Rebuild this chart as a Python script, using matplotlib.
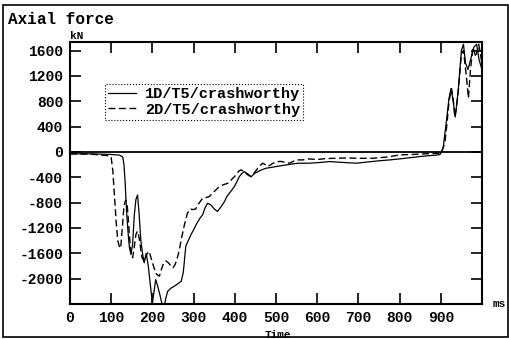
import matplotlib
matplotlib.use("Agg")
from matplotlib import pyplot as plt
from matplotlib.patches import Rectangle

# Axial force history (kN) against time (ms)
time_2d = [0, 50, 95, 100, 104, 108, 112, 116, 120, 123, 127, 131, 135, 139, 143, 147,
           152, 156, 160, 164, 168, 174, 180, 186, 192, 198, 204, 210, 217, 222, 227,
           233, 239, 245, 250, 255, 260, 265, 270, 277, 285, 292, 298, 305, 312, 322,
           330, 338, 346, 354, 362, 371, 378, 385, 393, 403, 410, 415, 421, 427, 433,
           440, 447, 456, 462, 468, 474, 480, 490, 500, 513, 522, 533, 549, 565, 580,
           600, 620, 646, 670, 700, 735, 770, 800, 830, 860, 880, 895, 900, 905, 910,
           915, 920, 926, 930, 934, 938, 943, 950, 955, 962, 967, 972, 978, 985, 992, 1000]
force_2d = [-30, -35, -60, -90, -300, -700, -1100, -1400, -1500, -1520, -1200, -850, -760,
            -850, -1200, -1550, -1670, -1500, -1300, -1250, -1360, -1650, -1730, -1620,
            -1570, -1700, -1830, -1930, -1960, -1850, -1760, -1720, -1750, -1800, -1830,
            -1780, -1680, -1560, -1380, -1170, -966, -900, -910, -900, -820, -730, -720,
            -705, -650, -600, -550, -520, -505, -490, -430, -362, -300, -283, -300, -336,
            -370, -390, -330, -257, -210, -178, -200, -231, -190, -153, -150, -165, -178,
            -126, -126, -110, -120, -105, -100, -95, -100, -100, -80, -47, -40, -30, -25,
            -20, -20, 50, 150, 450, 800, 1000, 850, 550, 700, 1000, 1550, 1600, 1200, 850,
            1300, 1650, 1500, 1700, 1400]

time_1d = [0, 50, 100, 120, 128, 131, 134, 137, 140, 144, 148, 152, 156, 160, 164, 168,
           172, 176, 180, 185, 190, 195, 200, 204, 208, 212, 218, 224, 229, 233, 237, 245,
           253, 262, 270, 275, 281, 287, 294, 300, 306, 314, 322, 328, 334, 342, 350, 358,
           366, 375, 381, 387, 393, 399, 405, 411, 417, 423, 432, 440, 448, 456, 466, 476,
           488, 500, 512, 525, 540, 553, 581, 610, 630, 660, 695, 720, 750, 776, 800, 820,
           849, 870, 890, 898, 902, 906, 912, 920, 925, 930, 935, 942, 950, 955, 960, 966,
           972, 980, 987, 993, 1000]
force_1d = [-30, -30, -40, -50, -80, -200, -500, -900, -1200, -1500, -1620, -1450, -1000,
            -750, -680, -1000, -1400, -1600, -1750, -1600, -1800, -2100, -2380, -2200,
            -2015, -2100, -2250, -2420, -2420, -2300, -2200, -2150, -2120, -2080, -2040,
            -1900, -1490, -1400, -1300, -1230, -1150, -1060, -990, -880, -810, -835, -900,
            -940, -870, -783, -700, -650, -600, -546, -470, -390, -340, -310, -350, -390,
            -340, -310, -280, -257, -245, -231, -218, -205, -190, -178, -178, -165, -152,
            -165, -178, -160, -140, -126, -110, -95, -73, -60, -50, -40, 0, 80, 400, 850,
            1000, 800, 550, 950, 1600, 1700, 1400, 1300, 1450, 1650, 1700, 1450, 1300]

x_ticks = [0, 100, 200, 300, 400, 500, 600, 700, 800, 900]
y_ticks = [1600, 1200, 800, 400, 0, -400, -800, -1200, -1600, -2000]

font = {'family': 'Liberation Mono', 'weight': 'bold'}

fig = plt.figure(figsize=(5.1, 3.39), dpi=100)
ax = fig.add_axes([70 / 510, 35 / 339, 412 / 510, 262 / 339])

ax.plot(time_1d, force_1d, color='black', lw=0.9, label='1D/T5/crashworthy')
ax.plot(time_2d, force_2d, color='black', lw=1.0, dashes=(5, 2.5), label='2D/T5/crashworthy')
ax.axhline(0, color='black', lw=1.3)

ax.set_xlim(0, 1000)
ax.set_ylim(-2400, 1735)

ax.set_xticks(x_ticks)
ax.set_xticklabels([str(v) for v in x_ticks], fontdict=font, fontsize=10.5)
ax.set_yticks(y_ticks)
ax.set_yticklabels([str(v) for v in y_ticks], fontdict=font, fontsize=10.5)
ax.tick_params(direction='in', length=8, width=1.2, top=True, right=True, pad=5)
for s in ax.spines.values():
    s.set_linewidth(1.5)

# axis captions
fig.text(8 / 510, 1 - 19 / 339, 'Axial force', ha='left', va='center', fontsize=11.5, **font)
fig.text(70 / 510, 1 - 36 / 339, 'kN', ha='left', va='center', fontsize=8, **font)
fig.text(493 / 510, 1 - 304 / 339, 'ms', ha='left', va='center', fontsize=8, **font)
fig.text(278 / 510, 1 - 335 / 339, 'Time', ha='center', va='center', fontsize=8, **font)

leg = ax.legend(loc='upper left', bbox_to_anchor=(35 / 412, 220 / 262), borderaxespad=0,
                prop={'family': 'Liberation Mono', 'weight': 'bold', 'size': 11},
                handlelength=1.8, handletextpad=0.6, labelspacing=0.1, borderpad=0.2,
                fancybox=False, framealpha=1)
leg.get_frame().set_edgecolor('black')
leg.get_frame().set_linestyle(':')
leg.get_frame().set_linewidth(0.8)

# outer frame round the whole figure
fig.patches.append(Rectangle((3 / 510, 2 / 339), 505 / 510, 332 / 339, transform=fig.transFigure,
                             fill=False, edgecolor='black', lw=1.2))

plt.savefig('out.png', dpi=100)
